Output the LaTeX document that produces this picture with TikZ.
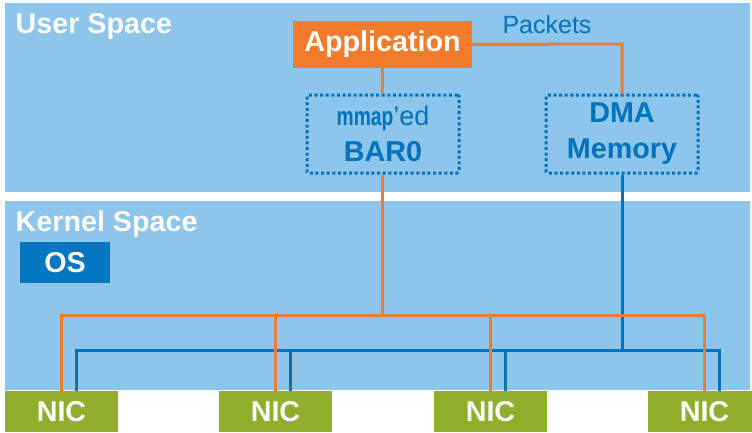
\documentclass[tikz,border=0pt]{standalone}
\usepackage{fontspec}
\usepackage{graphicx}
\setmainfont{Liberation Sans}
\definecolor{panelblue}{HTML}{8EC5EB}
\definecolor{deepblue}{HTML}{0072BC}
\definecolor{osblue}{HTML}{0077C0}
\definecolor{appor}{HTML}{F37B2C}
\definecolor{nicgreen}{HTML}{8FAE2B}
\tikzset{
  bigtext/.style={font=\fontsize{28.7}{36}\selectfont\bfseries},
  panel/.style={fill=panelblue, draw=none},
  panellabel/.style={bigtext, text=white, anchor=base west, inner sep=0pt},
  appbox/.style={bigtext, fill=appor, text=white, minimum width=179pt, minimum height=47pt, inner sep=0pt},
  osbox/.style={bigtext, fill=osblue, text=white, minimum width=90pt, minimum height=41pt, inner sep=0pt},
  nicbox/.style={bigtext, fill=nicgreen, text=white, minimum width=113pt, minimum height=41pt, inner sep=0pt},
  membox/.style={bigtext, draw=deepblue, line width=3pt, dash pattern=on 3pt off 2.6pt, rounded corners=1.5pt,
    text=deepblue, align=center, minimum width=152pt, minimum height=78pt, inner sep=0pt},
  oline/.style={draw=appor, line width=3pt},
  bline/.style={draw=deepblue, line width=3pt},
}
\begin{document}
\begin{tikzpicture}[x=1pt, y=-1pt]
  \useasboundingbox (0,0) rectangle (752,432);
  \fill[white] (0,0) rectangle (752,432);

  % address-space panels
  \path[panel] (5,3) rectangle (750,192);
  \path[panel] (5,201) rectangle (750,390);
  \node[panellabel] (userlbl) at (15.5,33) {User Space};
  \node[panellabel] (kernlbl) at (15.5,231.5) {Kernel Space};

  % boxes
  \node[appbox] (app) at (382.5,44.5) {Application};
  \node[osbox] (os) at (65,262.5) {OS};
  \node[membox] (bar0) at (383,134) {{\fontsize{26}{36}\selectfont\scalebox{0.74}[1]{mmap}}{\mdseries\fontsize{27}{36}\selectfont ’ed}\\BAR0};
  \node[membox] (dma) at (622,134) {DMA\\Memory};
  \node[font=\fontsize{25}{30}\selectfont, text=deepblue, anchor=base, inner sep=0pt] (packets) at (547,33) {Packets};

  \node[nicbox] (nic1) at (61.5,411.5) {NIC};
  \node[nicbox] (nic2) at (275.5,411.5) {NIC};
  \node[nicbox] (nic3) at (490.5,411.5) {NIC};
  \node[nicbox] (nic4) at (704.5,411.5) {NIC};

  % DMA memory bus (blue)
  \coordinate (bjoin) at (622,350);
  \coordinate (b1) at ([xshift=15pt]nic1.north);
  \coordinate (b2) at ([xshift=15pt]nic2.north);
  \coordinate (b3) at ([xshift=15pt]nic3.north);
  \coordinate (b4) at ([xshift=15pt]nic4.north);
  \draw[bline] (dma.south) -- (bjoin);
  \draw[bline] (b1) |- (b4 |- bjoin) -- (b4);
  \draw[bline] (b2) -- (b2 |- bjoin);
  \draw[bline] (b3) -- (b3 |- bjoin);

  % register access path (orange)
  \coordinate (ojoin) at (382,315);
  \coordinate (pkcorner) at (622,44);
  \draw[oline] (app.south -| ojoin) -- (bar0.north -| ojoin);
  \draw[oline] (bar0.south -| ojoin) -- (ojoin);
  \draw[oline] (app.east) -- (pkcorner) -- (dma.north);
  \draw[oline] (nic1.north) |- (nic4.north |- ojoin) -- (nic4.north);
  \draw[oline] (nic2.north) -- (nic2.north |- ojoin);
  \draw[oline] (nic3.north) -- (nic3.north |- ojoin);
\end{tikzpicture}
\end{document}
